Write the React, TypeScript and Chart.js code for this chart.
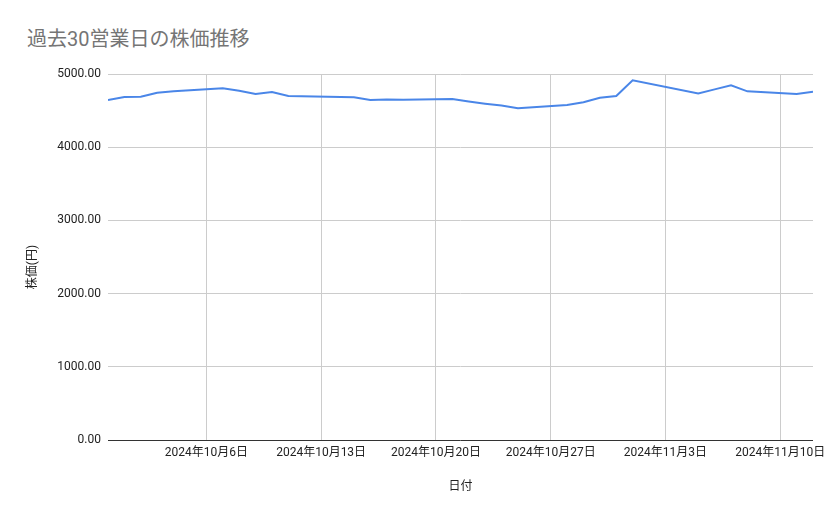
import { useEffect, useRef } from 'react'
import { Chart, registerables } from 'chart.js'

Chart.register(...registerables)

const TITLE = '過去30営業日の株価推移'
const X_TITLE = '日付'
const Y_TITLE = '株価(円)'

// axis range (first / last trading day shown)
const START_DATE = '2024-09-30'
const END_DATE = '2024-11-12'

// 30 trading days (10/14 and 11/4 are holidays)
const dates = [
  '2024-09-30', '2024-10-01', '2024-10-02', '2024-10-03', '2024-10-04',
  '2024-10-07', '2024-10-08', '2024-10-09', '2024-10-10', '2024-10-11',
  '2024-10-15', '2024-10-16', '2024-10-17', '2024-10-18',
  '2024-10-21', '2024-10-22', '2024-10-23', '2024-10-24', '2024-10-25',
  '2024-10-28', '2024-10-29', '2024-10-30', '2024-10-31', '2024-11-01',
  '2024-11-05', '2024-11-06', '2024-11-07', '2024-11-08',
  '2024-11-11', '2024-11-12',
]

const prices = [
  4645, 4686, 4688, 4745, 4765,
  4805, 4772, 4727, 4754, 4699,
  4682, 4645, 4650, 4648,
  4660, 4625, 4595, 4570, 4531,
  4576, 4613, 4676, 4699, 4914,
  4735, 4790, 4845, 4763,
  4727, 4758,
]

const tickDates = ['2024-10-06', '2024-10-13', '2024-10-20', '2024-10-27', '2024-11-03', '2024-11-10']
const tickLabels = ['2024年10月6日', '2024年10月13日', '2024年10月20日', '2024年10月27日', '2024年11月3日', '2024年11月10日']

const yTicks = [0, 1000, 2000, 3000, 4000, 5000]

const FONT = "Roboto, 'Noto Sans CJK JP', sans-serif"
const DAY_MS = 86400000
const dayIndex = (iso: string) => (Date.parse(iso) - Date.parse(START_DATE)) / DAY_MS

// the y title sits a little below the plot's middle, like the sheets export
const yTitlePlugin = {
  id: 'yTitle',
  afterDraw(chart: Chart) {
    const { ctx, chartArea } = chart
    ctx.save()
    ctx.translate(33, (chartArea.top + chartArea.bottom) / 2 + 10)
    ctx.rotate(-Math.PI / 2)
    ctx.font = `12px ${FONT}`
    ctx.fillStyle = '#222'
    ctx.textAlign = 'center'
    ctx.textBaseline = 'middle'
    ctx.fillText(Y_TITLE, 0, 0)
    ctx.restore()
  },
}

export default function App() {
  const canvasRef = useRef<HTMLCanvasElement | null>(null)
  const chartRef = useRef<Chart | null>(null)

  useEffect(() => {
    if (!canvasRef.current) return
    chartRef.current?.destroy()

    const tickValues = tickDates.map(dayIndex)

    chartRef.current = new Chart(canvasRef.current, {
      type: 'line',
      data: {
        datasets: [
          {
            label: Y_TITLE,
            data: dates.map((d, i) => ({ x: dayIndex(d), y: prices[i] })),
            borderColor: '#4a86e8',
            backgroundColor: '#4a86e8',
            borderWidth: 2,
            pointRadius: 0,
            tension: 0,
            fill: false,
          },
        ],
      },
      options: {
        animation: false,
        responsive: true,
        maintainAspectRatio: false,
        layout: { padding: { left: 0, right: 26, top: 74, bottom: 0 } },
        plugins: {
          legend: { display: false },
          tooltip: { enabled: false },
        },
        scales: {
          x: {
            type: 'linear',
            min: 0,
            max: dayIndex(END_DATE),
            afterBuildTicks: (s: any) => {
              s.ticks = tickValues.map((value) => ({ value }))
            },
            afterFit: (s: any) => {
              s.height = 79
            },
            ticks: {
              autoSkip: false,
              maxRotation: 0,
              padding: 6,
              color: '#222',
              font: { size: 12, family: FONT },
              callback: (v: any) => {
                const i = tickValues.indexOf(Number(v))
                return i >= 0 ? tickLabels[i] : ''
              },
            },
            grid: { color: '#cccccc', drawTicks: false },
            border: { display: false },
            title: {
              display: true,
              text: X_TITLE,
              color: '#222',
              font: { size: 12, family: FONT },
              padding: { top: 0, bottom: 25 },
            },
          },
          y: {
            min: 0,
            max: 5000,
            afterBuildTicks: (s: any) => {
              s.ticks = yTicks.map((value) => ({ value }))
            },
            afterFit: (s: any) => {
              s.width = 108
            },
            ticks: {
              padding: 7,
              color: '#222',
              font: { size: 12, family: FONT },
              callback: (v: any) => Number(v).toFixed(2),
            },
            grid: {
              color: (ctx: any) => (ctx.tick && ctx.tick.value === 0 ? '#333333' : '#cccccc'),
              drawTicks: false,
            },
            border: { display: false },
          },
        },
      },
      plugins: [yTitlePlugin],
    })

    return () => {
      chartRef.current?.destroy()
      chartRef.current = null
    }
  }, [])

  return (
    <div style={{ position: 'absolute', left: 0, top: 0, width: 839, height: 519, background: '#fff' }}>
      <div
        style={{
          position: 'absolute',
          left: 27,
          top: 27,
          fontFamily: FONT,
          fontSize: 20,
          lineHeight: '24px',
          color: '#757575',
          whiteSpace: 'nowrap',
        }}
      >
        {TITLE}
      </div>
      <div style={{ position: 'absolute', left: 0, top: 0, width: 839, height: 519 }}>
        <canvas ref={canvasRef} />
      </div>
    </div>
  )
}
